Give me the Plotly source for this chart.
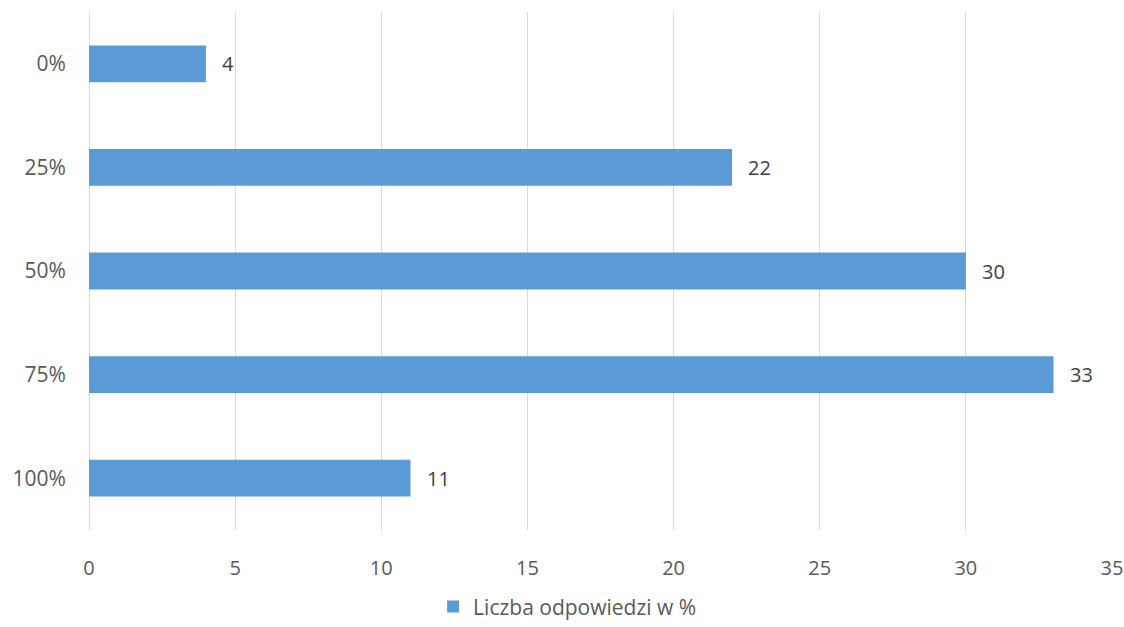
import plotly.graph_objects as go

# Share of answers per category
categories = ["0%", "25%", "50%", "75%", "100%"]
values = [4, 22, 30, 33, 11]
series_name = "Liczba odpowiedzi w %"
x_ticks = [0, 5, 10, 15, 20, 25, 30, 35]

BAR_COLOR = "#5B9BD5"
TEXT_COLOR = "#595959"
GRID_COLOR = "#D9D9D9"
FONT = "Open Sans, Segoe UI, sans-serif"

fig = go.Figure()
fig.add_trace(go.Bar(
    x=values,
    y=categories,
    orientation="h",
    name=series_name,
    marker=dict(color=BAR_COLOR, line=dict(width=0)),
    showlegend=True,
))

# value labels just past the end of each bar
for cat, val in zip(categories, values):
    fig.add_annotation(
        x=val, y=cat, text=str(val), showarrow=False,
        xanchor="left", yanchor="middle", xshift=14,
        font=dict(family=FONT, size=20, color="#404040"),
    )

fig.update_layout(
    width=1124, height=627,
    margin=dict(l=89, r=12, t=12, b=97, autoexpand=False),
    paper_bgcolor="white", plot_bgcolor="white",
    bargap=0.645,
    font=dict(family=FONT, size=20, color=TEXT_COLOR),
    xaxis=dict(
        range=[0, 35], tickvals=x_ticks, ticktext=[str(t) for t in x_ticks],
        showgrid=True, gridcolor=GRID_COLOR, gridwidth=1,
        zeroline=True, zerolinecolor=GRID_COLOR, zerolinewidth=1,
        showline=False, automargin=False,
        ticks="outside", ticklen=20, tickcolor="rgba(0,0,0,0)",
        tickfont=dict(family=FONT, size=20, color=TEXT_COLOR),
        fixedrange=True,
    ),
    yaxis=dict(
        categoryorder="array", categoryarray=categories,
        autorange="reversed", automargin=False,
        showgrid=False, showline=False,
        ticks="outside", ticklen=18, tickcolor="rgba(0,0,0,0)",
        tickfont=dict(family=FONT, size=21, color=TEXT_COLOR),
        fixedrange=True,
    ),
    legend=dict(
        orientation="h", xref="container", yref="container",
        x=0.505, xanchor="center", y=0.032, yanchor="middle",
        font=dict(family=FONT, size=21, color=TEXT_COLOR),
        itemwidth=30,
    ),
)

fig.write_html("out.html")
